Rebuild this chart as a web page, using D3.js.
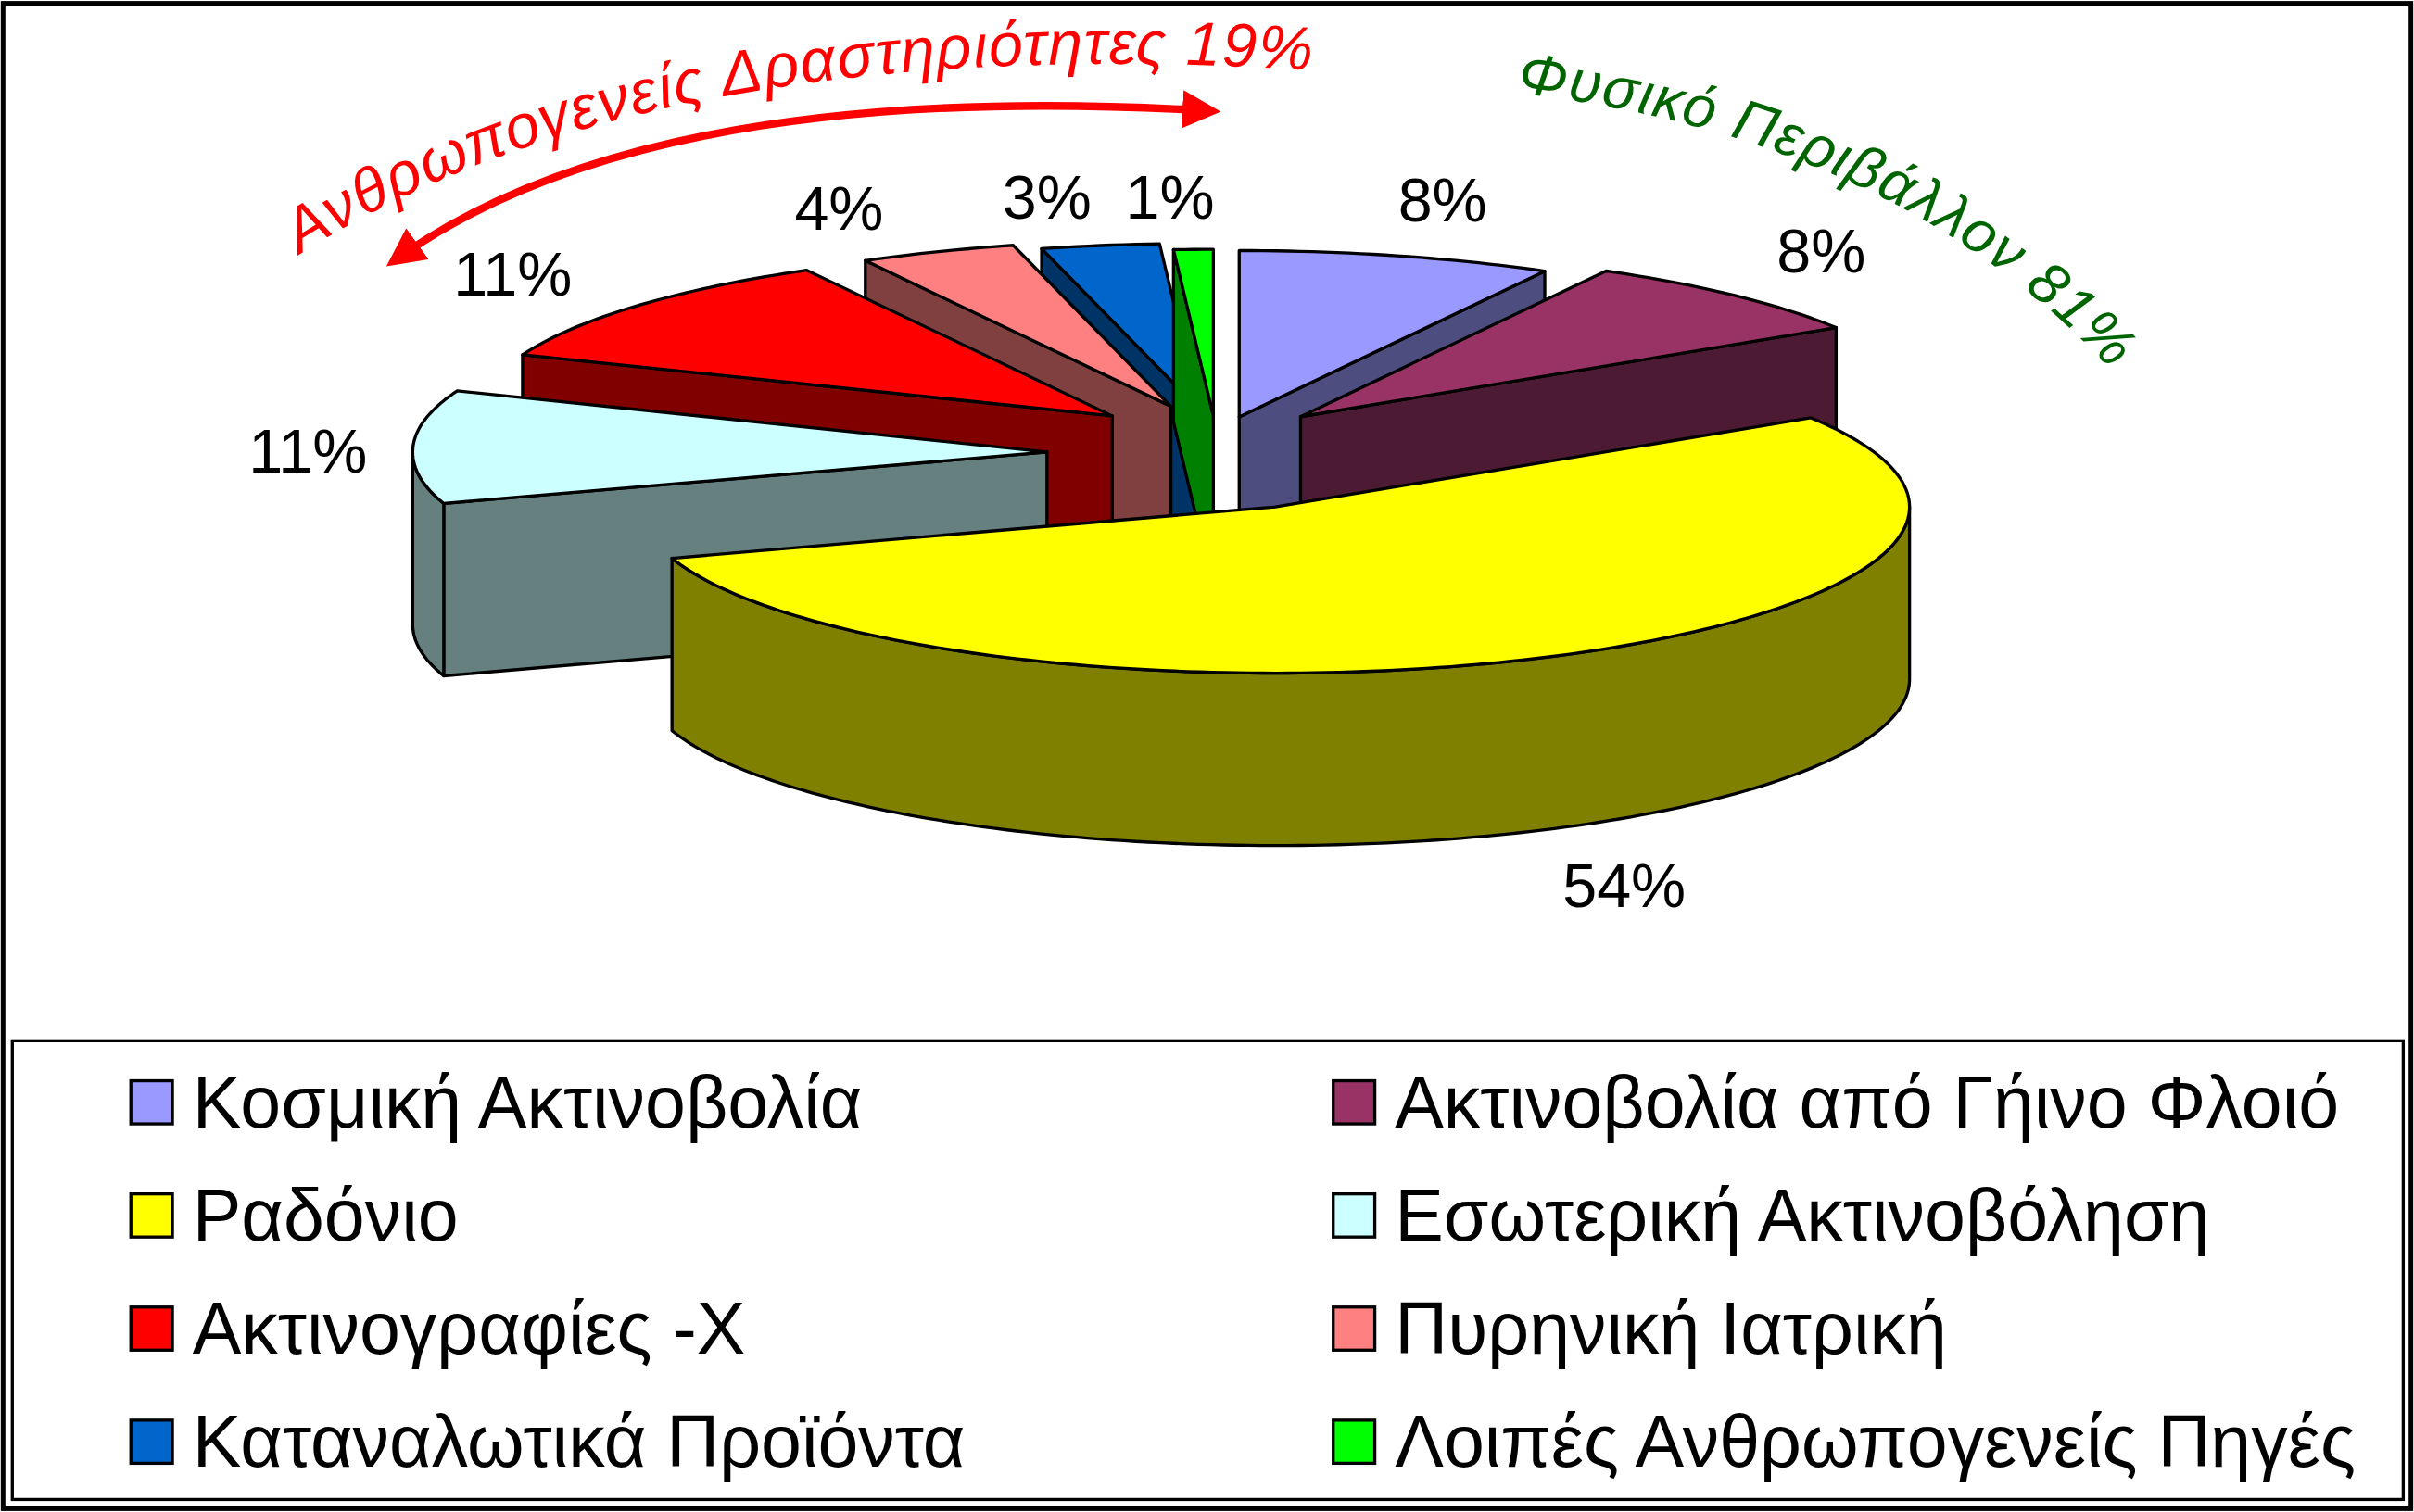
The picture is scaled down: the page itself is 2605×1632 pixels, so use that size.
<!DOCTYPE html>
<html lang="el">
<head>
<meta charset="utf-8">
<title>Ακτινοβολία - πίτα</title>
<script src="https://cdn.jsdelivr.net/npm/d3@7"></script>
<style>
  body { margin: 0; background: #fff; }
  text { font-family: "Liberation Sans", Arial, sans-serif; }
</style>
</head>
<body>
<script>
// data
var categories = ["Κοσμική Ακτινοβολία", "Ακτινοβολία από Γήινο Φλοιό", "Ραδόνιο",
                  "Εσωτερική Ακτινοβόληση", "Ακτινογραφίες -Χ", "Πυρηνική Ιατρική",
                  "Καταναλωτικά Προϊόντα", "Λοιπές Ανθρωπογενείς Πηγές"];
var values = [8, 8, 54, 11, 11, 4, 3, 1];
var labels = ["8%", "8%", "54%", "11%", "11%", "4%", "3%", "1%"];
var legendOrder = [0, 1, 2, 3, 4, 5, 6, 7];

var topColors  = ["#9999FF", "#993366", "#FFFF00", "#CCFFFF", "#FF0000", "#FF8080", "#0066CC", "#00FF00"];
var sideColors = ["#4d4d80", "#4d1a33", "#808000", "#668080", "#800000", "#804040", "#003366", "#008000"];
var explode    = [60, 80, 90, 110, 90, 80, 70, 60];

var W = 1568, H = 982;
var svg = d3.select("body").append("svg")
  .attr("width", 2605).attr("height", 1632)
  .attr("viewBox", "0 0 " + W + " " + H);

svg.append("rect").attr("x", 2).attr("y", 2).attr("width", W - 4).attr("height", H - 4)
  .attr("fill", "#fff").attr("stroke", "#000").attr("stroke-width", 3);

var cx = 790, cy = 295, rx = 412, ry = 108, depth = 112;

var pie = d3.pie().sort(null).value(function(d) { return d; });
var arcs = pie(values);

function pt(c, a, r) { return [c[0] + rx * r * Math.sin(a), c[1] - ry * r * Math.cos(a)]; }
function samples(a0, a1) {
  var n = Math.max(2, Math.ceil((a1 - a0) / 0.02)), out = [];
  for (var i = 0; i <= n; i++) out.push(a0 + (a1 - a0) * i / n);
  return out;
}
var line = d3.line();

var slices = arcs.map(function(a, i) {
  var mid = (a.startAngle + a.endAngle) / 2;
  var c = [cx + explode[i] * Math.sin(mid), cy - explode[i] * (ry / rx) * 1.6 * Math.cos(mid)];
  return { a: a, i: i, mid: mid, c: c, y: c[1] - ry * Math.cos(mid) };
});
slices.sort(function(p, q) { return p.y - q.y; });

var g = svg.append("g").attr("stroke", "#000").attr("stroke-width", 2).attr("stroke-linejoin", "round");
slices.forEach(function(s) {
  var a0 = s.a.startAngle, a1 = s.a.endAngle, c = s.c, i = s.i;
  var cb = [c[0], c[1] + depth];
  // radial walls, only those facing the viewer
  [[a0, Math.sin(a0) < 0], [a1, Math.sin(a1) > 0]].forEach(function(w) {
    if (!w[1]) return;
    var p = pt(c, w[0], 1), pb = pt(cb, w[0], 1);
    g.append("path").attr("d", line([c, p, pb, cb]) + "Z").attr("fill", sideColors[i]);
  });
  // outer front wall (angles between 90° and 270°)
  var f0 = Math.max(a0, Math.PI / 2), f1 = Math.min(a1, 3 * Math.PI / 2);
  if (f1 > f0) {
    var ang = samples(f0, f1);
    var pts = ang.map(function(a) { return pt(c, a, 1); })
      .concat(ang.slice().reverse().map(function(a) { return pt(cb, a, 1); }));
    g.append("path").attr("d", line(pts) + "Z").attr("fill", sideColors[i]);
  }
  // top
  var top = [c].concat(samples(a0, a1).map(function(a) { return pt(c, a, 1); }));
  g.append("path").attr("d", line(top) + "Z").attr("fill", topColors[i]);
});

// percentage labels
var labelPos = [[937, 130], [1183, 163], [1055, 575], [200, 293], [333, 178], [545, 135], [680, 128], [760, 128]];
svg.selectAll("text.pct").data(labels).enter().append("text")
  .attr("class", "pct")
  .attr("x", function(d, i) { return labelPos[i][0]; })
  .attr("y", function(d, i) { return labelPos[i][1]; })
  .attr("text-anchor", "middle").attr("dominant-baseline", "central")
  .attr("font-size", 40).text(function(d) { return d; });

// annotations
var defs = svg.append("defs");
defs.append("marker").attr("id", "ah").attr("viewBox", "0 0 10 10").attr("refX", 8).attr("refY", 5)
  .attr("markerWidth", 5).attr("markerHeight", 5).attr("orient", "auto-start-reverse")
  .append("path").attr("d", "M0,0 L10,5 L0,10 Z").attr("fill", "#ff0000");
svg.append("path").attr("d", "M255,170 Q420,50 788,72").attr("fill", "none")
  .attr("stroke", "#ff0000").attr("stroke-width", 5)
  .attr("marker-start", "url(#ah)").attr("marker-end", "url(#ah)");

defs.append("path").attr("id", "redPath").attr("d", "M195,165 Q420,20 845,45");
svg.append("text").attr("fill", "#ff0000").attr("font-size", 40).attr("font-style", "italic")
  .attr("font-family", "'DejaVu Sans', sans-serif").attr("letter-spacing", 1)
  .append("textPath").attr("href", "#redPath").text("Ανθρωπογενείς Δραστηριότητες 19%");

defs.append("path").attr("id", "greenPath").attr("d", "M985,60 Q1240,90 1380,250");
svg.append("text").attr("fill", "#006400").attr("font-size", 38).attr("font-style", "italic")
  .attr("font-family", "'DejaVu Sans', sans-serif").attr("letter-spacing", 1)
  .append("textPath").attr("href", "#greenPath").text("Φυσικό Περιβάλλον 81%");

// legend
svg.append("rect").attr("x", 8).attr("y", 676).attr("width", 1553).attr("height", 298)
  .attr("fill", "none").attr("stroke", "#000").attr("stroke-width", 2);
var leg = svg.selectAll("g.leg").data(legendOrder).enter().append("g").attr("class", "leg")
  .attr("transform", function(d, k) {
    return "translate(" + (k % 2 ? 866 : 85) + "," + (716 + Math.floor(k / 2) * 73.5) + ")";
  });
leg.append("rect").attr("x", 0).attr("y", -14).attr("width", 27).attr("height", 28)
  .attr("fill", function(d) { return topColors[d]; }).attr("stroke", "#000").attr("stroke-width", 2);
leg.append("text").attr("x", 40).attr("y", 0).attr("dominant-baseline", "central")
  .attr("font-size", 47.5).text(function(d) { return categories[d]; });
</script>
</body>
</html>
